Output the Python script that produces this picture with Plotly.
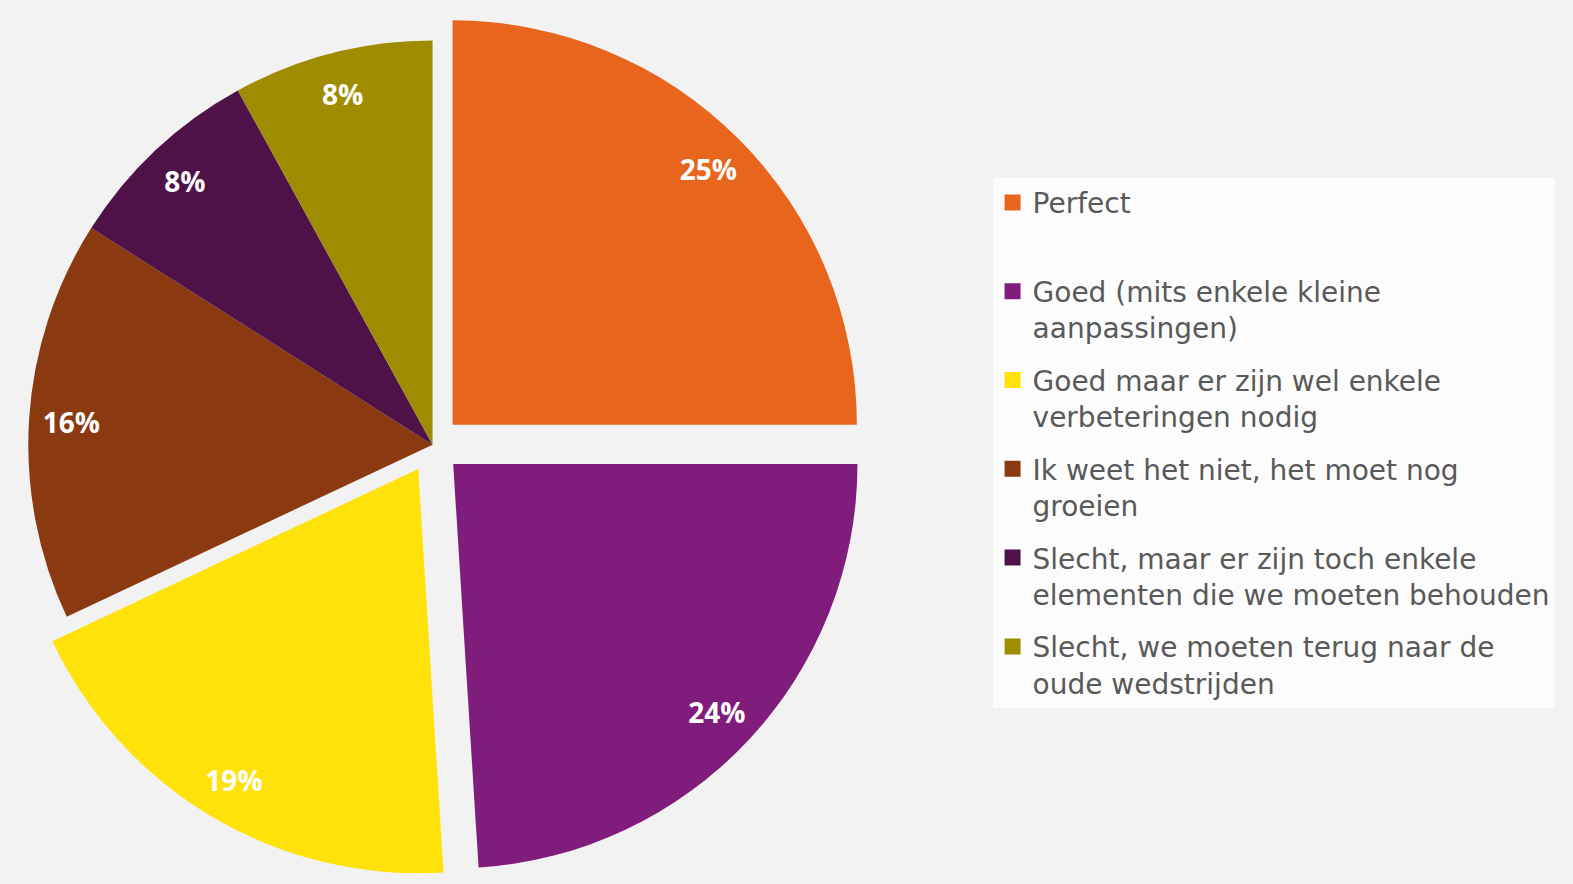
import plotly.graph_objects as go

labels = [
    "Perfect<br> ",
    "Goed (mits enkele kleine<br>aanpassingen)",
    "Goed maar er zijn wel enkele<br>verbeteringen nodig",
    "Ik weet het niet, het moet nog<br>groeien",
    "Slecht, maar er zijn toch enkele<br>elementen die we moeten behouden",
    "Slecht, we moeten terug naar de<br>oude wedstrijden",
]
values = [25, 24, 19, 16, 8, 8]
pulls = [0.07, 0.07, 0.07, 0, 0, 0]
colors = ["#E8651E", "#801C7C", "#FFE20A", "#8B3911", "#4E1249", "#A08C00"]

pie_domain = dict(x=[0, 0.55], y=[0, 0.994])

fig = go.Figure()

# the slices themselves
fig.add_trace(go.Pie(
    labels=labels,
    values=values,
    pull=pulls,
    sort=False,
    direction="clockwise",
    rotation=0,
    marker=dict(colors=colors, line=dict(width=0)),
    textinfo="none",
    showlegend=False,
    domain=pie_domain,
))

# transparent ring on top, only to put the percentages near the rim
fig.add_trace(go.Pie(
    labels=labels,
    values=values,
    pull=pulls,
    sort=False,
    direction="clockwise",
    rotation=0,
    hole=0.79,
    marker=dict(colors=["rgba(0,0,0,0)"] * len(values), line=dict(width=0)),
    texttemplate="<b>%{percent:.0%}</b>",
    textposition="inside",
    insidetextorientation="horizontal",
    textfont=dict(family="Open Sans", size=28, color="white"),
    showlegend=False,
    hoverinfo="skip",
    domain=pie_domain,
))

# legend entries (one group each so the spacing can be set)
for lab, col in zip(labels, colors):
    fig.add_trace(go.Scatter(
        x=[None], y=[None],
        mode="markers",
        name=lab,
        legendgroup=lab,
        marker=dict(symbol="square", size=16, color=col),
    ))

fig.update_layout(
    width=1573,
    height=884,
    margin=dict(l=0, r=0, t=0, b=0),
    paper_bgcolor="#F2F2F2",
    plot_bgcolor="rgba(0,0,0,0)",
    xaxis=dict(visible=False),
    yaxis=dict(visible=False),
    showlegend=True,
    legend=dict(
        x=0.631, y=0.799, xanchor="left", yanchor="top",
        bgcolor="#FCFCFC",
        font=dict(family="DejaVu Sans", size=28, color="#595959"),
        tracegroupgap=13,
        valign="top",
        itemsizing="trace",
        traceorder="grouped",
    ),
)

fig.write_html(
    "out.html",
    config={"displayModeBar": False},
    post_script="document.body.style.margin='0px';",
)
